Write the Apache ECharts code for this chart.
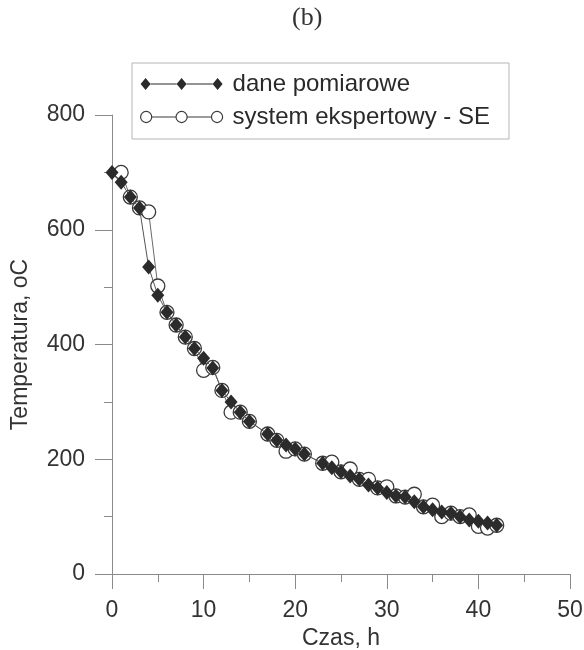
<!DOCTYPE html>
<html>
<head>
<meta charset="utf-8">
<script src="https://cdn.jsdelivr.net/npm/echarts@6/dist/echarts.min.js"></script>
<style>
  html, body { margin: 0; padding: 0; background: #fff; }
  #chart { width: 584px; height: 650px; }
</style>
</head>
<body>
<div id="chart"></div>
<script>
// dane pomiarowe (h, oC)
var hoursMeasured = [0, 1, 2, 3, 4, 5, 6, 7, 8, 9, 10, 11, 12, 13, 14, 15, 17, 18, 19, 20, 21,
  23, 24, 25, 26, 27, 28, 29, 30, 31, 32, 33, 34, 35, 36, 37, 38, 39, 40, 41, 42];
var tempMeasured = [700, 683, 657, 638, 535, 486, 456, 434, 413, 393, 376, 359, 320, 300, 282, 266, 244, 233, 225, 218, 209,
  193, 185, 178, 171, 165, 155, 150, 142, 136, 134, 126, 117, 112, 108, 106, 100, 94, 92, 89, 85];

// system ekspertowy - SE
var hoursSE = [1, 2, 3, 4, 5, 6, 7, 8, 9, 10, 11, 12, 13, 14, 15, 17, 18, 19, 20, 21,
  23, 24, 25, 26, 27, 28, 29, 30, 31, 32, 33, 34, 35, 36, 37, 38, 39, 40, 41, 42];
var tempSE = [700, 657, 638, 631, 502, 456, 434, 413, 393, 355, 360, 320, 282, 282, 266, 244, 233, 214, 218, 209,
  193, 195, 178, 183, 165, 165, 150, 152, 136, 134, 139, 117, 120, 100, 106, 100, 103, 83, 80, 85];

var xTicks = [0, 10, 20, 30, 40, 50];
var yTicks = [0, 200, 400, 600, 800];

function pairs(xs, ys) {
  return xs.map(function (x, i) { return [x, ys[i]]; });
}

// ikony legendy: linia z trzema znacznikami
var iconDiamonds = 'path://M0,6 L5,0 L10,6 L5,12 Z M10,5.5 L36,5.5 L36,6.5 L10,6.5 Z ' +
  'M36,6 L41,0 L46,6 L41,12 Z M46,5.5 L72,5.5 L72,6.5 L46,6.5 Z M72,6 L77,0 L82,6 L77,12 Z';
var iconCircles = 'path://M0.5,6 A5.5,5.5 0 1 1 11.5,6 A5.5,5.5 0 1 1 0.5,6 Z M11.5,6 L35.5,6 ' +
  'M35.5,6 A5.5,5.5 0 1 1 46.5,6 A5.5,5.5 0 1 1 35.5,6 Z M46.5,6 L70.5,6 ' +
  'M70.5,6 A5.5,5.5 0 1 1 81.5,6 A5.5,5.5 0 1 1 70.5,6 Z';

var font = 'Liberation Sans, Arial, sans-serif';
var axisGrey = '#8a8a8a';

var chart = echarts.init(document.getElementById('chart'));
chart.setOption({
  backgroundColor: '#fff',
  animation: false,
  title: {
    text: '(b)',
    left: 287,
    top: 0,
    textStyle: { fontFamily: 'Liberation Serif, Times New Roman, serif', fontSize: 26, fontWeight: 'normal', color: '#333' }
  },
  legend: {
    orient: 'vertical',
    left: 132,
    top: 63,
    padding: [8, 19, 9, 8],
    itemGap: 7,
    itemWidth: 82,
    itemHeight: 14,
    borderColor: '#b5b5b5',
    borderWidth: 1,
    textStyle: { fontFamily: font, fontSize: 24, color: '#2a2a2a', lineHeight: 26, padding: [0, 0, 0, 5] },
    data: [
      { name: 'dane pomiarowe', icon: iconDiamonds, itemStyle: { color: '#2b2b2b', borderWidth: 0 } },
      { name: 'system ekspertowy - SE', icon: iconCircles, itemStyle: { color: 'transparent', borderColor: '#3a3a3a', borderWidth: 1.2 } }
    ]
  },
  grid: { left: 112, right: 14, top: 115, bottom: 76, outerBoundsMode: 'none' },
  xAxis: {
    type: 'value',
    min: xTicks[0],
    max: xTicks[xTicks.length - 1],
    interval: 10,
    name: 'Czas, h',
    nameLocation: 'middle',
    nameGap: 51,
    nameTextStyle: { fontFamily: font, fontSize: 23, color: '#333' },
    axisLine: { show: true, onZero: false, lineStyle: { color: axisGrey, width: 1 } },
    axisTick: { show: true, inside: false, length: 15, lineStyle: { color: axisGrey } },
    minorTick: { show: true, splitNumber: 2, length: 8, lineStyle: { color: axisGrey } },
    axisLabel: { margin: 25, fontFamily: font, fontSize: 23, color: '#333' },
    splitLine: { show: false }
  },
  yAxis: {
    type: 'value',
    min: yTicks[0],
    max: yTicks[yTicks.length - 1],
    interval: 200,
    name: 'Temperatura, oC',
    nameLocation: 'middle',
    nameGap: 80,
    nameTextStyle: { fontFamily: font, fontSize: 23, color: '#333' },
    axisLine: { show: true, lineStyle: { color: axisGrey, width: 1 } },
    axisTick: { show: true, inside: false, length: 17, lineStyle: { color: axisGrey } },
    minorTick: { show: true, splitNumber: 2, length: 8, lineStyle: { color: axisGrey } },
    axisLabel: { margin: 27, fontFamily: font, fontSize: 23, color: '#333' },
    splitLine: { show: false }
  },
  series: [
    {
      name: 'system ekspertowy - SE',
      type: 'line',
      z: 2,
      data: pairs(hoursSE, tempSE),
      symbol: 'circle',
      symbolSize: 14,
      showAllSymbol: true,
      itemStyle: { color: '#fff', borderColor: '#3a3a3a', borderWidth: 1.3 },
      lineStyle: { color: '#6a6a6a', width: 1 },
      emphasis: { disabled: true }
    },
    {
      name: 'dane pomiarowe',
      type: 'line',
      z: 3,
      data: pairs(hoursMeasured, tempMeasured),
      symbol: 'diamond',
      symbolSize: [13, 15],
      showAllSymbol: true,
      itemStyle: { color: '#2b2b2b' },
      lineStyle: { color: '#555', width: 1 },
      emphasis: { disabled: true }
    }
  ]
});
</script>
</body>
</html>
